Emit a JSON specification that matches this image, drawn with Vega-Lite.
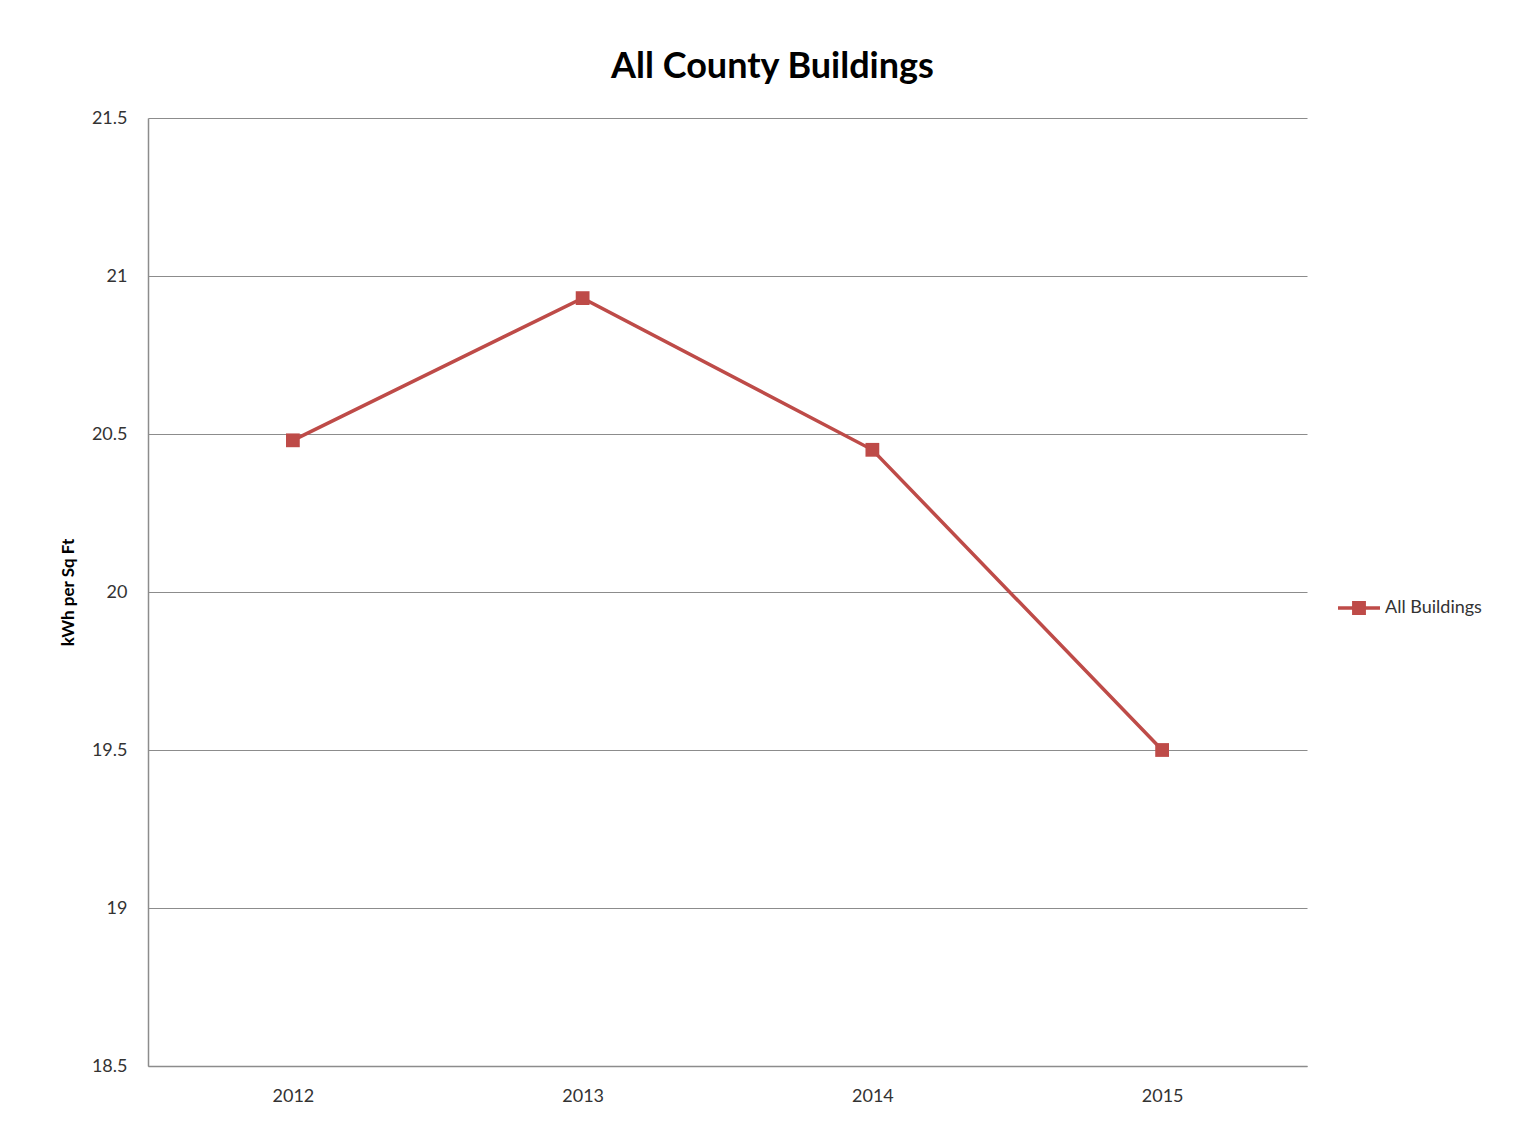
{
  "$schema": "https://vega.github.io/schema/vega-lite/v6.json",
  "autosize": "none",
  "width": 1159,
  "height": 948,
  "padding": {"left": 148, "top": 118, "right": 211, "bottom": 65},
  "background": "white",
  "title": {
    "text": "All County Buildings",
    "font": "Lato",
    "fontSize": 36,
    "fontWeight": "bold",
    "color": "#000000",
    "frame": "group",
    "anchor": "middle",
    "dx": 45,
    "offset": 23
  },
  "config": {
    "view": {"stroke": null},
    "font": "Lato"
  },
  "data": {
    "values": [
      {"year": "2012", "value": 20.48, "series": "All Buildings"},
      {"year": "2013", "value": 20.93, "series": "All Buildings"},
      {"year": "2014", "value": 20.45, "series": "All Buildings"},
      {"year": "2015", "value": 19.5, "series": "All Buildings"}
    ]
  },
  "mark": {
    "type": "line",
    "strokeWidth": 3.5,
    "point": {"shape": "square", "size": 190, "filled": true, "opacity": 1}
  },
  "encoding": {
    "x": {
      "field": "year",
      "type": "ordinal",
      "scale": {"type": "point", "padding": 0.5},
      "axis": {
        "title": null,
        "labelAngle": 0,
        "labelFontSize": 18,
        "labelColor": "#333333",
        "labelPadding": 21,
        "ticks": false,
        "domain": true,
        "domainColor": "#8c8c8c",
        "domainWidth": 1.5,
        "grid": false
      }
    },
    "y": {
      "field": "value",
      "type": "quantitative",
      "scale": {"domain": [18.5, 21.5], "nice": false, "zero": false},
      "axis": {
        "title": "kWh per Sq Ft",
        "titleFontSize": 17,
        "titleFontWeight": "bold",
        "titleColor": "#000000",
        "titlePadding": 14,
        "values": [18.5, 19, 19.5, 20, 20.5, 21, 21.5],
        "format": ".3~g",
        "labelFontSize": 18,
        "labelColor": "#333333",
        "labelPadding": 21,
        "ticks": false,
        "domain": true,
        "domainColor": "#8c8c8c",
        "domainWidth": 1.5,
        "grid": true,
        "gridColor": "#8c8c8c",
        "gridWidth": 1.2
      }
    },
    "color": {
      "field": "series",
      "type": "nominal",
      "scale": {"range": ["#BE4B48"]},
      "legend": {
        "title": null,
        "orient": "none",
        "legendX": 1190,
        "legendY": 469,
        "symbolType": "M-1,-0.08L1,-0.08L1,0.08L-1,0.08Z M-0.33,-0.33L0.33,-0.33L0.33,0.33L-0.33,0.33Z",
        "symbolSize": 1764,
        "symbolFillColor": "#BE4B48",
        "symbolStrokeWidth": 0,
        "symbolOpacity": 1,
        "labelFontSize": 18,
        "labelColor": "#333333",
        "labelOffset": 5
      }
    }
  }
}
